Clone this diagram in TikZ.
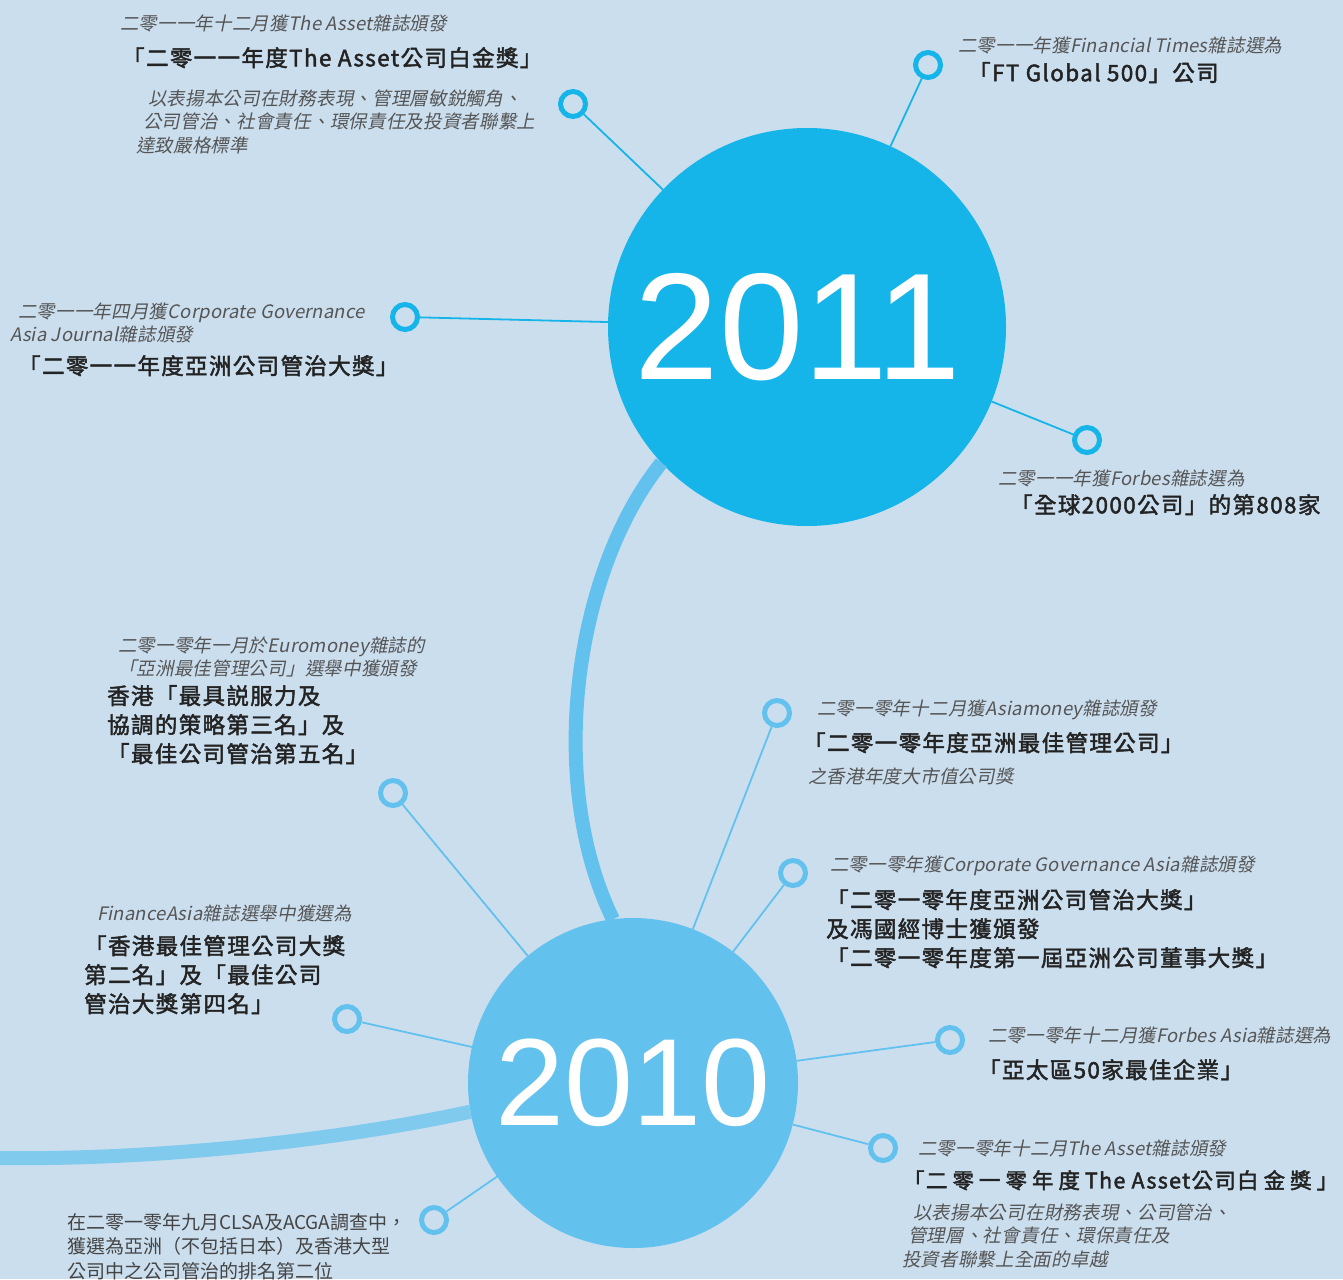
\documentclass[tikz,border=0pt]{standalone}
\usepackage{fontspec}
\newfontfamily\cjk{Noto Sans CJK TC}
\newfontfamily\cjkb[FakeBold=2, LetterSpace=6]{Noto Sans CJK TC}
\newfontfamily\cjkit[FakeSlant=0.2, LetterSpace=1]{Noto Sans CJK TC}
\newfontfamily\numfont{Liberation Sans}
\newcommand\awgap{\hspace{5pt}}
\definecolor{bgblue}{RGB}{203,222,238}
\definecolor{blueA}{RGB}{21,181,233}
\definecolor{blueB}{RGB}{99,193,238}
\definecolor{blueC}{RGB}{128,202,238}
\definecolor{notegray}{RGB}{85,85,85}
\definecolor{awardink}{RGB}{35,35,35}
\begin{document}
\begin{tikzpicture}[x=1pt, y=-1pt]
		\tikzstyle{year} = [circle, inner sep=0pt, outer sep=0pt, text=white]
		\tikzstyle{ring} = [circle, draw=#1, line width=5pt, fill=bgblue, minimum size=25pt, inner sep=0pt]
		\tikzstyle{spoke} = [draw=#1, line width=1.8pt]
		\tikzstyle{trunk} = [draw=#1, line width=14pt]
		\tikzstyle{note} = [anchor=north west, align=left, inner sep=0pt, text=notegray, font=\cjkit\fontsize{18.5}{23.5}\selectfont]
		\tikzstyle{award} = [anchor=north west, align=left, inner sep=0pt, text=awardink, font=\cjkb\fontsize{22.5}{29}\selectfont]
		\tikzstyle{plain} = [anchor=north west, align=left, inner sep=0pt, text=notegray!80!black, font=\cjk\fontsize{19}{24.5}\selectfont]
		\fill[bgblue] (0,0) rectangle (1343,1279);
		\useasboundingbox (0,0) rectangle (1343,1279);

		\node[year, fill=blueA, minimum size=398pt, font=\numfont\fontsize{152}{160}\selectfont] (y2011) at (807,327) {2011\hspace*{18pt}};
		\node[year, fill=blueB, minimum size=330pt, font=\numfont\fontsize{124}{130}\selectfont] (y2010) at (633,1083) {2010};
		\coordinate (lend) at (0,1158);
		\draw[trunk=blueB] (y2011.223) .. controls (575,570) and (545,780) .. (y2010.97);
		\draw[trunk=blueC] (lend) .. controls (150,1160) and (330,1142) .. (y2010.190);

		\node[ring=blueA] (r1) at (573,104) {};
		\node[ring=blueA] (r2) at (928,65) {};
		\node[ring=blueA] (r3) at (405,317) {};
		\node[ring=blueA] (r4) at (1087,440) {};
		\foreach \r in {r1,r2,r3,r4}
			\draw[spoke=blueA] (\r) -- (y2011);

		\node[ring=blueB] (s1) at (777,713) {};
		\node[ring=blueB] (s2) at (793,873) {};
		\node[ring=blueB] (s3) at (393,793) {};
		\node[ring=blueB] (s4) at (347,1019) {};
		\node[ring=blueB] (s5) at (950,1040) {};
		\node[ring=blueB] (s6) at (883,1148) {};
		\node[ring=blueB] (s7) at (434,1220) {};
		\foreach \s in {s1,s2,s3,s4,s5,s6,s7}
			\draw[spoke=blueB] (\s) -- (y2010);

		\node[note] (a1) at (120,14.5) {二零一一年十二月獲The Asset雜誌頒發};
		\node[award] (a2) at (122,47) {「二零一一年度The Asset公司白金獎」};
		\node[note] (a3) at (136,89.5) {\hspace*{12pt}以表揚本公司在財務表現、管理層敏鋭觸角、\\\hspace*{7pt}公司管治、社會責任、環保責任及投資者聯繫上\\達致嚴格標準};

		\node[note] (b1) at (958,36.5) {二零一一年獲Financial Times雜誌選為};
		\node[award] (b2) at (968,62) {「FT Global 500」公司};

		\node[note] (c1) at (10,302.5) {\hspace*{8pt}二零一一年四月獲Corporate Governance\\Asia Journal雜誌頒發};
		\node[award] (c2) at (18,355) {「二零一一年度亞洲公司管治大獎」};

		\node[note] (d1) at (998,469.5) {二零一一年獲Forbes雜誌選為};
		\node[award] (d2) at (1010,494) {「全球2000公司」的第808家};

		\node[note] (e1) at (118,636.5) {二零一零年一月於Euromoney雜誌的\\「亞洲最佳管理公司」選舉中獲頒發};
		\node[award] (e2) at (107,685) {香港「最具説服力及\\協調的策略第三名」及\\「最佳公司管治第五名」};

		\node[note] (f1) at (817,699.5) {二零一零年十二月獲Asiamoney雜誌頒發};
		\node[award] (f2) at (803,732) {「二零一零年度亞洲最佳管理公司」};
		\node[note] (f3) at (808,767.5) {之香港年度大市值公司獎};

		\node[note] (g1) at (830,855.5) {二零一零年獲Corporate Governance Asia雜誌頒發};
		\node[award] (g2) at (826,889) {「二零一零年度亞洲公司管治大獎」\\及馮國經博士獲頒發\\「二零一零年度第一屆亞洲公司董事大獎」};

		\node[note] (h1) at (97,904.5) {FinanceAsia雜誌選舉中獲選為};
		\node[award] (h2) at (84,935) {「香港最佳管理公司大獎\\第二名」及「最佳公司\\管治大獎第四名」};

		\node[note] (i1) at (988,1026.5) {二零一零年十二月獲Forbes Asia雜誌選為};
		\node[award] (i2) at (978,1059) {「亞太區50家最佳企業」};

		\node[note] (j1) at (918,1139.5) {二零一零年十二月The Asset雜誌頒發};
		\node[award, font=\cjkb\fontsize{21.5}{29}\selectfont] (j2) at (903,1170) {「二\awgap 零\awgap 一\awgap 零\awgap 年\awgap 度\awgap The Asset公司白\awgap 金\awgap 獎\awgap 」};
		\node[note] (j3) at (902,1203.5) {\hspace*{11pt}以表揚本公司在財務表現、公司管治、\\\hspace*{6pt}管理層、社會責任、環保責任及\\投資者聯繫上全面的卓越};

		\node[plain] (k1) at (67,1213) {在二零一零年九月CLSA及ACGA調查中，\\獲選為亞洲（不包括日本）及香港大型\\公司中之公司管治的排名第二位};
\end{tikzpicture}
\end{document}
